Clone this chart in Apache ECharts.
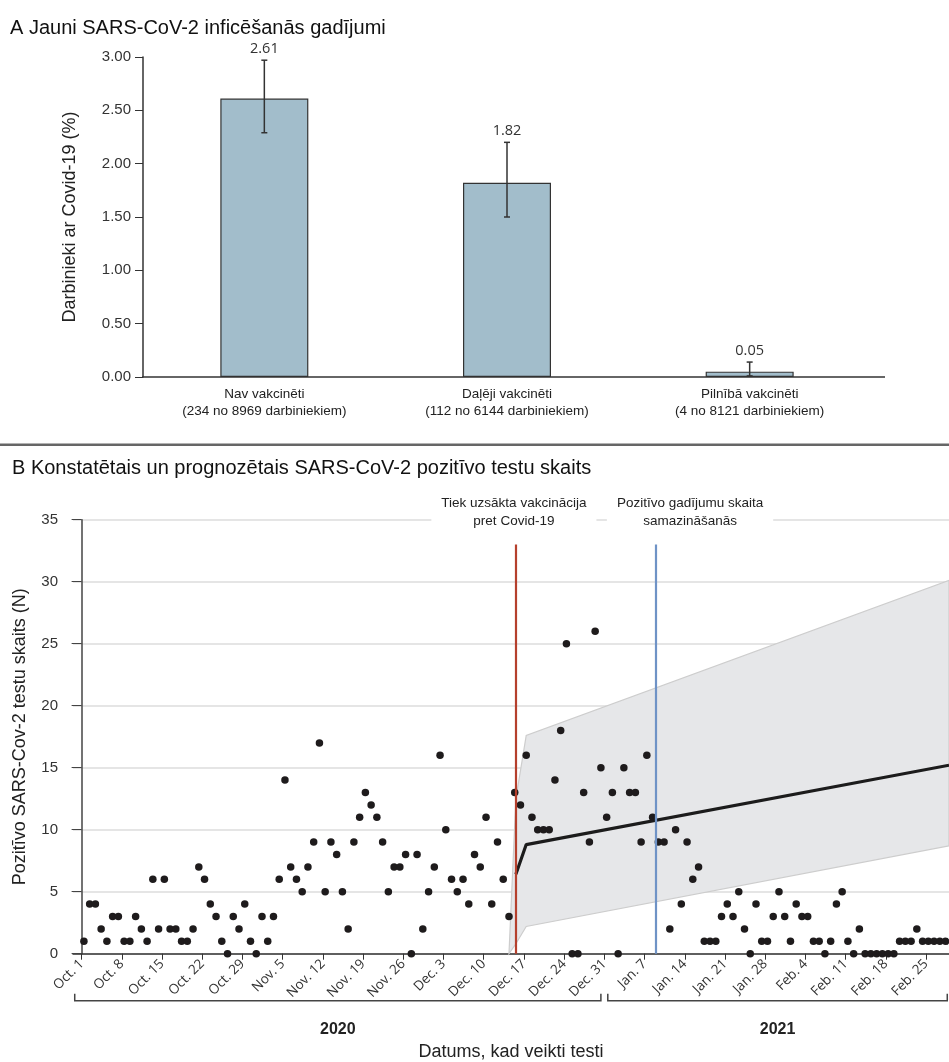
<!DOCTYPE html>
<html>
<head>
<meta charset="utf-8">
<script src="https://cdn.jsdelivr.net/npm/echarts@6/dist/echarts.min.js"></script>
<style>
  html, body { margin: 0; padding: 0; background: #fff; }
  #chart { width: 949px; height: 1062px; }
</style>
</head>
<body>
<div id="chart"></div>
<script>
// ---------- Panel A data ----------
const titleA = 'A Jauni SARS-CoV-2 inficēšanās gadījumi';
const barCategories = [
  'Nav vakcinēti\n(234 no 8969 darbiniekiem)',
  'Daļēji vakcinēti\n(112 no 6144 darbiniekiem)',
  'Pilnībā vakcinēti\n(4 no 8121 darbiniekiem)'
];
const barValues = [2.61, 1.82, 0.05];
const ciLow = [2.29, 1.50, 0.01];
const ciHigh = [2.97, 2.20, 0.14];
const yNameA = 'Darbinieki ar Covid-19 (%)';

// ---------- Panel B data ----------
const titleB = 'B Konstatētais un prognozētais SARS-CoV-2 pozitīvo testu skaits';
const firstDate = 'Oct. 1, 2020';
// daily positive tests, one value per day from Oct. 1, 2020 to Feb. 28, 2021
const dailyPositive = [
  1,4,4,2,1,3,3,1,1,3,2,1,6,2,6,2,2,1,1,2,7,6,4,3,1,0,3,2,4,1,0,
  3,1,3,6,14,7,6,5,7,9,17,5,9,8,5,2,9,11,13,12,11,9,5,7,7,8,0,8,2,
  5,7,16,10,6,5,6,4,8,7,11,4,9,6,3,13,12,16,11,10,10,10,14,18,25,0,0,13,9,26,15,
  11,13,0,15,13,13,9,16,11,9,9,2,10,4,9,6,7,1,1,1,3,4,3,5,2,0,4,1,1,3,5,3,1,4,3,
  3,1,1,0,1,4,5,1,0,2,0,0,0,0,0,0,1,1,1,2,1,1,1,1,1
];
const dateTickDays = [0,7,14,21,28,35,42,49,56,63,70,77,84,91,98,105,112,119,126,133,140,147];
const dateTickLabels = ['Oct. 1','Oct. 8','Oct. 15','Oct. 22','Oct. 29','Nov. 5','Nov. 12','Nov. 19',
  'Nov. 26','Dec. 3','Dec. 10','Dec. 17','Dec. 24','Dec. 31','Jan. 7','Jan. 14','Jan. 21','Jan. 28',
  'Feb. 4','Feb. 11','Feb. 18','Feb. 25'];
// projection (days since Oct. 1)
const projDays = [75.6, 77.4, 151];
const projMean = [6.4, 8.8, 15.2];
const bandDays = [74.4, 75.6, 77.4, 151];
const bandLow  = [0, 0.8, 2.2, 8.7];
const bandHigh = [0, 12.5, 17.6, 30.1];
const vaccinationStartDay = 75.6;
const declineDay = 100;
const markerTop = 33;
const markerTexts = ['Tiek uzsākta vakcinācija\npret Covid-19', 'Pozitīvo gadījumu skaita\nsamazināšanās'];
const yearSpans = [
  { label: '2020', from: -1.2, to: 90.4 },
  { label: '2021', from: 91.6, to: 150.7 }
];
const yNameB = 'Pozitīvo SARS-Cov-2 testu skaits (N)';
const xNameB = 'Datums, kad veikti testi';

// ---------- chart ----------
const narrow = '"Liberation Sans Narrow", "Liberation Sans", Arial, sans-serif';
const sans = '"Liberation Sans", Arial, sans-serif';
const chart = echarts.init(document.getElementById('chart'), null, { renderer: 'canvas' });

const scatterData = dailyPositive.map((v, i) => [i + 0.4, v]);
const meanData = projDays.map((d, i) => [d, projMean[i]]);

const option = {
  animation: false,
  backgroundColor: '#fff',
  grid: [
    { left: 143, top: 57, width: 728, height: 320 },
    { left: 73, top: 519.7, right: 0, height: 434 }
  ],
  xAxis: [
    {
      type: 'category', gridIndex: 0, data: barCategories,
      axisLine: { show: false },
      axisTick: { show: false },
      axisLabel: { fontFamily: sans, fontSize: 13.5, lineHeight: 17, color: '#222', margin: 9 }
    },
    {
      type: 'value', gridIndex: 1, min: -1.5, max: 151,
      axisLine: { lineStyle: { color: '#333', width: 1.5 } },
      axisTick: { show: true, length: 6, customValues: dateTickDays, lineStyle: { color: '#333' } },
      axisLabel: {
        customValues: dateTickDays, rotate: 45, margin: 8, hideOverlap: false,
        fontFamily: '"Open Sans", sans-serif', fontSize: 13.5, color: '#333',
        formatter: v => dateTickLabels[dateTickDays.indexOf(Math.round(v))] || ''
      },
      splitLine: { show: false },
      name: xNameB, nameLocation: 'middle', nameGap: 89,
      nameTextStyle: { fontFamily: sans, fontSize: 18, color: '#222' }
    }
  ],
  yAxis: [
    {
      type: 'value', gridIndex: 0, min: 0, max: 3, interval: 0.5,
      axisLine: { show: true, lineStyle: { color: '#333', width: 1.5 } },
      axisTick: { show: true, length: 8, lineStyle: { color: '#333' } },
      axisLabel: { fontFamily: narrow, fontSize: 15, color: '#333', margin: 12, formatter: v => v.toFixed(2) },
      splitLine: { show: false },
      name: yNameA, nameLocation: 'middle', nameGap: 64,
      nameTextStyle: { fontFamily: sans, fontSize: 18, color: '#222' }
    },
    {
      type: 'value', gridIndex: 1, min: 0, max: 35, interval: 5,
      axisLine: { show: true, lineStyle: { color: '#444', width: 1.5 } },
      axisTick: { show: true, length: 10, lineStyle: { color: '#444' } },
      axisLabel: { fontFamily: narrow, fontSize: 15, color: '#333', margin: 15 },
      splitLine: { show: true, lineStyle: { color: '#dcdcdc', width: 1.5 } },
      name: yNameB, nameLocation: 'middle', nameGap: 44,
      nameTextStyle: { fontFamily: sans, fontSize: 18, color: '#222' }
    }
  ],
  series: [
    {
      type: 'bar', xAxisIndex: 0, yAxisIndex: 0, data: barValues, barWidth: 88,
      itemStyle: { color: '#a2bdcb', borderColor: '#333', borderWidth: 1.2 }
    },
    {
      type: 'custom', xAxisIndex: 0, yAxisIndex: 0, z: 5,
      data: barValues.map((v, i) => [i, ciLow[i], ciHigh[i]]),
      renderItem: (params, api) => {
        const i = params.dataIndex;
        const lo = api.coord([api.value(0), api.value(1)]);
        const hi = api.coord([api.value(0), api.value(2)]);
        const st = { stroke: '#333', lineWidth: 1.5 };
        return {
          type: 'group', children: [
            { type: 'line', shape: { x1: lo[0], y1: lo[1], x2: hi[0], y2: hi[1] }, style: st },
            { type: 'line', shape: { x1: hi[0] - 3, y1: hi[1], x2: hi[0] + 3, y2: hi[1] }, style: st },
            { type: 'line', shape: { x1: lo[0] - 3, y1: lo[1], x2: lo[0] + 3, y2: lo[1] }, style: st },
            { type: 'text', style: { text: barValues[i].toFixed(2), x: hi[0], y: hi[1] - 4,
              align: 'center', verticalAlign: 'bottom', font: '14.5px "Open Sans", sans-serif', fill: '#333' } }
          ]
        };
      }
    },
    {
      type: 'custom', xAxisIndex: 1, yAxisIndex: 1, z: 1, data: [[bandDays[0], 0]],
      renderItem: (params, api) => {
        const pts = [];
        for (let i = 0; i < bandDays.length; i++) pts.push(api.coord([bandDays[i], bandHigh[i]]));
        for (let i = bandDays.length - 1; i >= 0; i--) pts.push(api.coord([bandDays[i], bandLow[i]]));
        return { type: 'polygon', shape: { points: pts }, style: { fill: '#e6e7e9', stroke: '#cdcdcd', lineWidth: 1.2 } };
      },
      markLine: {
        silent: true, symbol: 'none', label: { show: false },
        data: [
          [{ coord: [vaccinationStartDay, 0], lineStyle: { color: '#b5402d', width: 2.2, type: 'solid' } },
           { coord: [vaccinationStartDay, markerTop] }],
          [{ coord: [declineDay, 0], lineStyle: { color: '#6f93c6', width: 2.2, type: 'solid' } },
           { coord: [declineDay, markerTop] }]
        ]
      }
    },
    {
      type: 'line', xAxisIndex: 1, yAxisIndex: 1, z: 3, data: meanData,
      symbol: 'none', lineStyle: { color: '#1c1c1c', width: 3.2 }
    },
    {
      type: 'scatter', xAxisIndex: 1, yAxisIndex: 1, z: 4, data: scatterData,
      symbolSize: 7.5, itemStyle: { color: '#1e1b1c', opacity: 1 }
    }
  ]
};
chart.setOption(option);

// ---------- decorations placed with the chart's own coordinate system ----------
const px = (d, v) => chart.convertToPixel({ gridIndex: 1 }, [d, v]);
const axisY = px(0, 0)[1];
const topY = px(0, 35)[1];
const barBase = chart.convertToPixel({ gridIndex: 0 }, [0, 0])[1];
const graphics = [
  { type: 'text', left: 10, top: 18, style: { text: titleA, font: '20px ' + sans, fill: '#111' } },
  { type: 'line', z: 10, shape: { x1: 142, y1: barBase, x2: 885, y2: barBase }, style: { stroke: '#333', lineWidth: 1.6 } },
  { type: 'rect', shape: { x: 0, y: 443.5, width: 949, height: 2.5 }, style: { fill: '#666' } },
  { type: 'text', left: 12, top: 458, style: { text: titleB, font: '20px ' + sans, fill: '#111' } }
];
const redX = px(vaccinationStartDay, 0)[0];
const blueX = px(declineDay, 0)[0];
[[redX - 2, markerTexts[0]], [blueX + 34, markerTexts[1]]].forEach(([x, t]) => {
  graphics.push({
    type: 'text', x: x, y: topY + 11, z: 100,
    style: { text: t, font: '13.5px ' + narrow, fill: '#222', align: 'center', verticalAlign: 'bottom',
      lineHeight: 18, backgroundColor: '#fff', padding: [0, 10, 0, 10] }
  });
});
yearSpans.forEach(s => {
  const x1 = px(s.from, 0)[0], x2 = px(s.to, 0)[0];
  const yb = axisY + 47;
  graphics.push({
    type: 'polyline', shape: { points: [[x1, yb - 7], [x1, yb], [x2, yb], [x2, yb - 7]] },
    style: { stroke: '#444', lineWidth: 1.5, fill: null }
  });
  graphics.push({
    type: 'text', x: (x1 + x2) / 2, y: yb + 29,
    style: { text: s.label, font: 'bold 16px ' + narrow, fill: '#222', align: 'center', verticalAlign: 'middle' }
  });
});
chart.setOption({ graphic: graphics });
</script>
</body>
</html>
